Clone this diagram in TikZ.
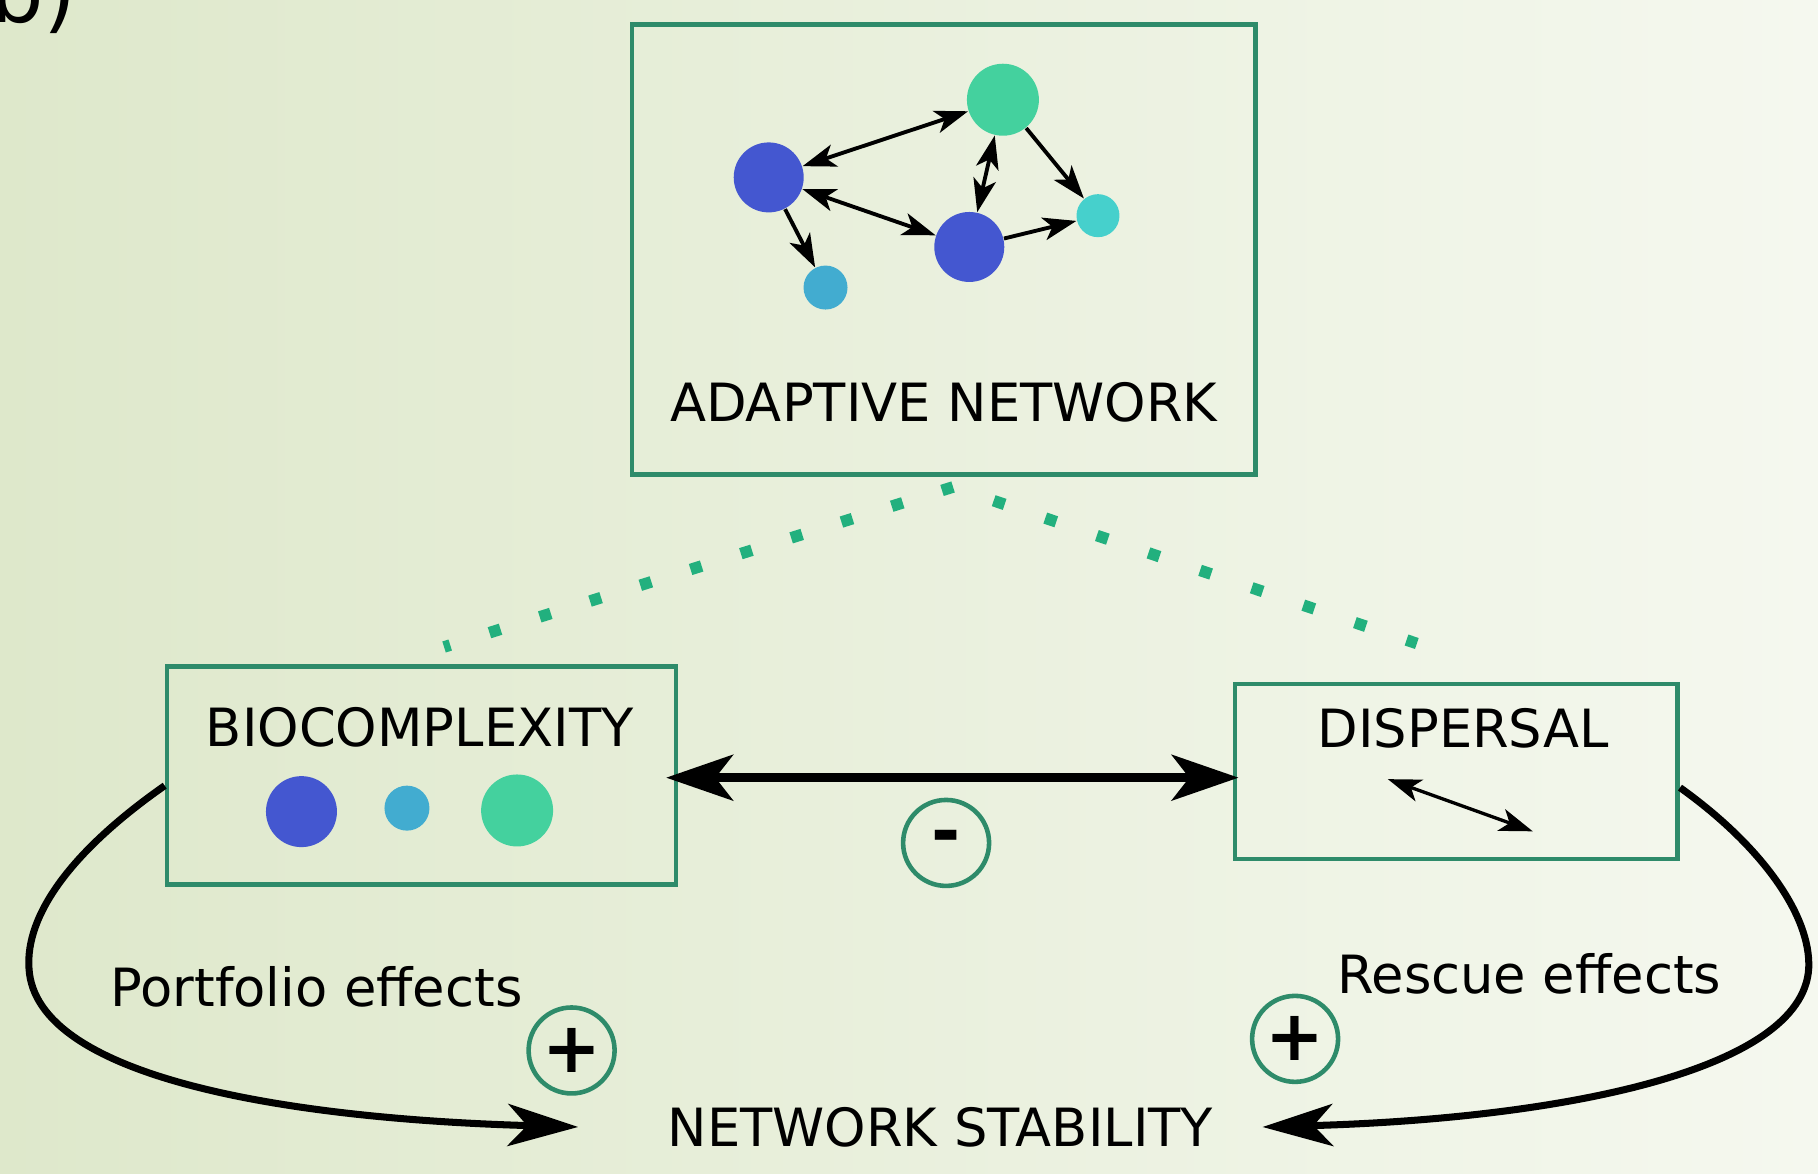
\documentclass[tikz,border=0pt]{standalone}
\usepackage{fontspec}
\setmainfont{DejaVu Sans}
\usetikzlibrary{arrows.meta}
\definecolor{bg left}{RGB}{222,232,203}
\definecolor{bg right}{RGB}{245,248,239}
\definecolor{box edge}{RGB}{46,139,106}
\definecolor{dot green}{RGB}{34,176,126}
\definecolor{spot blue}{RGB}{68,87,208}
\definecolor{spot green}{RGB}{68,209,158}
\definecolor{spot cyan}{RGB}{70,208,204}
\definecolor{spot sky}{RGB}{66,172,208}
\tikzset{framed/.style={draw=box edge, line width=1.3pt, inner sep=0pt},
	spot/.style={circle, fill=#1, inner sep=0pt},
	word/.style={font=\fontsize{15}{18}\selectfont, inner sep=0pt},
	sign/.style={circle, draw=box edge, line width=1.3pt, minimum size=0.86cm, inner sep=0pt, font=\fontsize{20}{20}\selectfont\bfseries},
	link/.style={line width=1.1pt, >={Stealth[length=9.5pt,width=6.5pt,inset=2.5pt]}},
	trade/.style={line width=2.4pt, >={Stealth[length=19pt,width=13pt,inset=5pt]}},
	sweep/.style={line width=2pt, >={Stealth[length=20pt,width=12pt,inset=5.5pt]}, ->},
	dots/.style={draw=dot green, line width=3.3pt, dash pattern=on 3.3pt off 11.7pt}}

\begin{document}
\begin{tikzpicture}[x=0.011594cm, y=-0.011594cm]
		\useasboundingbox (0,0) rectangle (1568,1012);
		\shade[left color=bg left, right color=bg right] (0,0) rectangle (1568,1012);
		\node[anchor=base west, font=\fontsize{24}{24}\selectfont, inner sep=0pt] (tag) at (-9,19) {b)};
		
		% adaptive network
		\node[framed, minimum width=6.24cm, minimum height=4.50cm] (net) at (814,215) {};
		\node[word] (nettitle) at (814,347) {ADAPTIVE NETWORK};
		\node[spot=spot blue, minimum size=0.70cm] (n1) at (663,153) {};
		\node[spot=spot green, minimum size=0.72cm] (n2) at (865,86) {};
		\node[spot=spot blue, minimum size=0.70cm] (n3) at (836,213) {};
		\node[spot=spot cyan, minimum size=0.43cm] (n4) at (947,186) {};
		\node[spot=spot sky, minimum size=0.44cm] (n5) at (712,248) {};
		\draw[link, <->] (n1) -- (n2);
		\draw[link, <->] (n1) -- (n3);
		\draw[link, <->] (n2) -- (n3);
		\draw[link, ->] (n2) -- (n4);
		\draw[link, ->] (n3) -- (n4);
		\draw[link, ->] (n1) -- (n5);
		
		% biocomplexity and dispersal
		\node[framed, minimum width=5.09cm, minimum height=2.18cm] (bio) at (363.5,669) {};
		\node[word] (biotitle) at (362,627) {BIOCOMPLEXITY};
		\node[spot=spot blue, minimum size=0.71cm] (b1) at (260,700) {};
		\node[spot=spot sky, minimum size=0.45cm] (b2) at (351,697) {};
		\node[spot=spot green, minimum size=0.72cm] (b3) at (446,699) {};
		\node[framed, minimum width=4.43cm, minimum height=1.75cm] (disp) at (1256,665.5) {};
		\node[word] (disptitle) at (1262,628) {DISPERSAL};
		\coordinate (d1) at (1197,672);
		\coordinate (d2) at (1322,717);
		\draw[link, <->, line width=0.95pt] (d1) -- (d2);
		
		\coordinate (apex) at (822,420);
		\coordinate (bioend) at (383,558);
		\coordinate (dispend) at (1222,555);
		\draw[dots] (apex) -- (bioend);
		\draw[dots, dash phase=3.3pt, dash pattern=on 3.3pt off 12.2pt] (apex) -- (dispend);
		
		\draw[trade, <->, shorten <=-0.12cm, shorten >=-0.06cm] ([yshift=-0.02cm]bio.east) -- ([yshift=-0.02cm]bio.east -| disp.west);
		\node[sign] (minus) at (816,727) {-};
		
		% stability
		\node[word] (stab) at (811,972) {NETWORK STABILITY};
		\node[word] (portfolio) at (273,851) {Portfolio effects};
		\node[word] (rescue) at (1319,840) {Rescue effects};
		\node[sign] (plusleft) at (493,906) {+};
		\node[sign] (plusright) at (1117,896) {+};
		\draw[sweep] ([yshift=-0.1cm]bio.west) .. controls (60,735) and (22,790) .. (25,835)
			.. controls (30,930) and (250,965) .. ([xshift=-0.89cm]stab.west);
		\draw[sweep] ([yshift=-0.16cm]disp.east) .. controls (1520,730) and (1562,790) .. (1560,835)
			.. controls (1555,925) and (1340,965) .. ([xshift=0.49cm]stab.east);
		\end{tikzpicture}
\end{document}
